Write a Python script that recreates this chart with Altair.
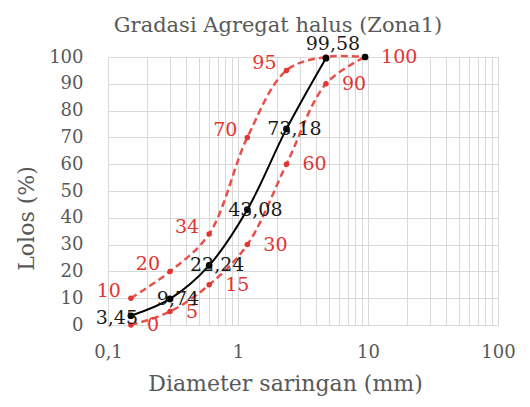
import altair as alt
import pandas as pd

# Sieve sizes (mm) and percent passing
sizes = [0.15, 0.3, 0.6, 1.18, 2.36, 4.75, 9.5]
passing = [3.45, 9.74, 22.24, 43.08, 73.18, 99.58, 100]
upper = [10, 20, 34, 70, 95, 100, 100]
lower = [0, 5, 15, 30, 60, 90, 100]

x_ticks = [0.1, 0.2, 0.3, 0.4, 0.5, 0.6, 0.7, 0.8, 0.9,
           1, 2, 3, 4, 5, 6, 7, 8, 9,
           10, 20, 30, 40, 50, 60, 70, 80, 90, 100]
y_ticks = [0, 10, 20, 30, 40, 50, 60, 70, 80, 90, 100]

df = pd.DataFrame({
    "size": sizes,
    "passing": passing,
    "upper": upper,
    "lower": lower,
    "idx": list(range(len(sizes))),
})

FONT = "DejaVu Serif"
GRAY = "#595959"
RED = "#e3342f"
REDLINE = "#e8504a"
INTERP = "catmull-rom"

x_scale = alt.Scale(type="log", domain=[0.1, 100])
y_scale = alt.Scale(domain=[0, 100])

x_axis = alt.Axis(
    values=x_ticks,
    labelExpr="datum.value == 0.1 ? '0,1' : datum.value == 1 ? '1' : datum.value == 10 ? '10' : datum.value == 100 ? '100' : ''",
    grid=True, ticks=False, domain=False,
    labelPadding=18, titlePadding=12, titleX=177,
    labelFlush=False,
)
y_axis = alt.Axis(
    values=y_ticks, grid=True, ticks=False, domain=False,
    labelPadding=25, titleX=-70, titleY=161,
)

X = alt.X("size:Q", scale=x_scale, axis=x_axis, title="Diameter saringan (mm)")


def Y(field):
    return alt.Y(f"{field}:Q", scale=y_scale, axis=y_axis, title="Lolos (%)")


base = alt.Chart(df)

upper_line = base.mark_line(color=REDLINE, strokeDash=[7, 4], strokeWidth=2.5,
                            interpolate=INTERP).encode(x=X, y=Y("upper"))
lower_line = base.mark_line(color=REDLINE, strokeDash=[7, 4], strokeWidth=2.5,
                            interpolate=INTERP).encode(x=X, y=Y("lower"))
upper_pts = base.mark_circle(size=30, color=RED, opacity=1).encode(x=X, y=Y("upper"))
lower_pts = base.mark_circle(size=30, color=RED, opacity=1).encode(x=X, y=Y("lower"))

black_line = base.transform_filter("datum.idx <= 5").mark_line(
    color="black", strokeWidth=2, interpolate=INTERP).encode(x=X, y=Y("passing"))
black_pts = base.mark_circle(size=45, color="black", opacity=1).encode(x=X, y=Y("passing"))

upper_lbl = base.transform_filter("datum.idx <= 4").mark_text(
    align="right", baseline="middle", dx=-10, dy=-7, color=RED, font=FONT, fontSize=19
).encode(x=X, y=Y("upper"), text=alt.Text("upper:Q"))

lower_lbl = base.mark_text(
    align="left", baseline="middle", dx=16, dy=0, color=RED, font=FONT, fontSize=19
).encode(x=X, y=Y("lower"), text=alt.Text("lower:Q"))

lab = base.transform_calculate(lab="replace(format(datum.passing, '.2f'), '.', ',')")
black_lbl_mid = lab.transform_filter("datum.idx >= 1 && datum.idx <= 4").mark_text(
    align="center", baseline="middle", dx=8, color="#1a1a1a", font=FONT, fontSize=19
).encode(x=X, y=Y("passing"), text="lab:N")
black_lbl_first = lab.transform_filter("datum.idx == 0").mark_text(
    align="center", baseline="middle", dx=-14, dy=2, color="#1a1a1a", font=FONT, fontSize=19
).encode(x=X, y=Y("passing"), text="lab:N")
black_lbl_top = lab.transform_filter("datum.idx == 5").mark_text(
    align="center", baseline="middle", dx=7, dy=-14, color="#1a1a1a", font=FONT, fontSize=19
).encode(x=X, y=Y("passing"), text="lab:N")

chart = alt.layer(
    black_line, upper_line, lower_line,
    upper_pts, lower_pts, black_pts,
    upper_lbl, lower_lbl, black_lbl_mid, black_lbl_first, black_lbl_top,
).properties(
    width=390, height=268,
    background="white",
    autosize=alt.AutoSizeParams(type="none"),
    padding={"left": 100, "top": 49, "right": 24, "bottom": 74},
    title=alt.TitleParams(
        "Gradasi Agregat halus (Zona1)", font=FONT, fontSize=21, fontWeight="normal",
        color=GRAY, offset=20, dx=-25, dy=21,
    ),
).configure_view(stroke=None).configure_axis(
    labelFont=FONT, labelFontSize=18, labelColor=GRAY,
    titleFont=FONT, titleFontSize=22, titleColor=GRAY, titleFontWeight="normal",
    gridColor="#d9d9d9", gridWidth=1,
)

chart.save("out.html", embed_options={"renderer": "svg", "actions": False})
